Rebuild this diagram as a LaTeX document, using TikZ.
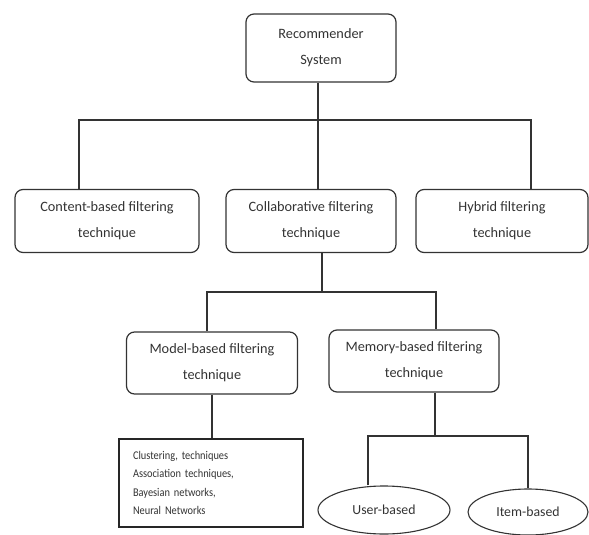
\documentclass[tikz,border=0pt]{standalone}
\usepackage{fontspec}
\setmainfont{Carlito}
\newfontfamily\listfont[FakeStretch=0.88]{Carlito}
\usetikzlibrary{shapes.geometric}
\definecolor{inkgray}{HTML}{333333}
\tikzset{
  techbox/.style={draw=inkgray, line width=1.2pt, rounded corners=8pt, align=center,
    text=inkgray, font=\fontsize{14.3}{26}\selectfont, inner sep=0pt},
  listbox/.style={draw=black!85, line width=1.8pt, align=left, text=inkgray,
    font=\listfont\fontsize{11.8}{18.3}\selectfont, inner xsep=14pt, inner ysep=0pt},
  basedell/.style={draw=inkgray, line width=1.1pt, ellipse, inner sep=0pt,
    text=inkgray, font=\fontsize{13.8}{16}\selectfont},
  link/.style={draw=inkgray, line width=1.2pt}
}
\begin{document}
\begin{tikzpicture}[x=1pt,y=-1pt]
\useasboundingbox (0,0) rectangle (589,535);
% top level
\node[techbox, minimum width=150pt, minimum height=68pt] (rec) at (321,48) {Recommender\\System};
\node[techbox, minimum width=184pt, minimum height=63pt] (content) at (107,221) {Content-based filtering\\technique};
\node[techbox, minimum width=170pt, minimum height=63pt] (collab) at (311,221) {Collaborative filtering\\technique};
\node[techbox, minimum width=172pt, minimum height=63pt] (hybrid) at (502,221) {Hybrid filtering\\technique};
% collaborative branch
\node[techbox, minimum width=171pt, minimum height=62pt] (model) at (212,363) {Model-based filtering\\technique};
\node[techbox, minimum width=170pt, minimum height=62pt] (memory) at (414,361) {Memory-based filtering\\technique};
\node[listbox, text width=156pt, minimum height=88pt] (cluster) at (211,483)
  {Clustering, techniques\\Association techniques,\\Bayesian networks,\\Neural Networks};
\node[basedell, minimum width=132pt, minimum height=48pt] (user) at (384,510) {User-based};
\node[basedell, minimum width=120pt, minimum height=46pt] (item) at (528,512) {Item-based};
% bus junctions
\coordinate (aM) at (318,120);
\coordinate (aL) at (79,120);
\coordinate (aR) at (531,120);
\coordinate (bM) at (322,292);
\coordinate (bL) at (207,292);
\coordinate (bR) at (436,292);
\coordinate (cM) at (435,436);
\coordinate (cL) at (368,436);
\coordinate (cR) at (528,436);
% connectors
\draw[link] (rec.south -| aM) -- (aM |- collab.north);
\draw[link] (aL |- content.north) -- (aL) -- (aR) -- (aR |- hybrid.north);
\draw[link] (collab.south -| bM) -- (bM);
\draw[link] (bL |- model.north) -- (bL) -- (bR) -- (bR |- memory.north);
\draw[link] (model.south) -- (model.south |- cluster.north);
\draw[link] (memory.south -| cM) -- (cM);
\draw[link] (cL |- user.north) -- (cL) -- (cR) -- (cR |- item.north);
\end{tikzpicture}
\end{document}
